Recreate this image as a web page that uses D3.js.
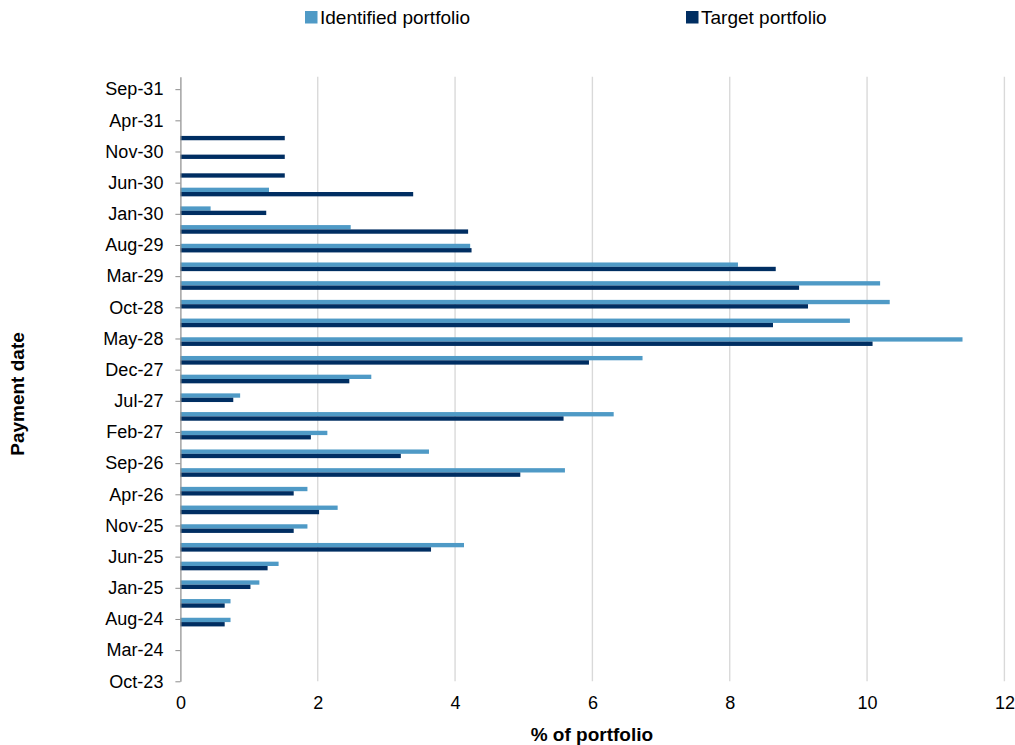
<!DOCTYPE html>
<html>
<head>
<meta charset="utf-8">
<script src="https://cdn.jsdelivr.net/npm/d3@7"></script>
<style>
  html, body { margin: 0; padding: 0; background: #fff; }
  svg { display: block; font-family: "Liberation Sans", Arial, sans-serif; }
</style>
</head>
<body>
<svg id="chart" width="1015" height="745"></svg>
<script>
// ---- Data ----
const paymentDates = ["Jul-24","Oct-24","Jan-25","Apr-25","Jul-25","Oct-25","Jan-26","Apr-26",
  "Jul-26","Oct-26","Jan-27","Apr-27","Jul-27","Oct-27","Jan-28","Apr-28","Jul-28","Oct-28",
  "Jan-29","Apr-29","Jul-29","Oct-29","Jan-30","Apr-30","Jul-30","Oct-30","Jan-31"];
const identifiedPortfolio = [0.73, 0.73, 1.15, 1.43, 4.13, 1.85, 2.29, 1.85, 5.60, 3.62, 2.14, 6.31,
  0.87, 2.78, 6.73, 11.39, 9.75, 10.33, 10.19, 8.12, 4.22, 2.48, 0.44, 1.29, 0, 0, 0];
const targetPortfolio = [0.645, 0.645, 1.02, 1.27, 3.65, 1.65, 2.02, 1.65, 4.95, 3.21, 1.90, 5.58,
  0.77, 2.46, 5.95, 10.08, 8.63, 9.14, 9.01, 8.67, 4.24, 4.19, 1.25, 3.39, 1.52, 1.52, 1.52];
const seriesNames = ["Identified portfolio", "Target portfolio"];
const xTickValues = [0, 2, 4, 6, 8, 10, 12];
const axisStart = "Oct-23";            // first month of the date axis
const axisMonths = 97;                 // axis length in months
const yTickStep = 5;                   // months between date labels

// ---- Helpers ----
const parse = d3.timeParse("%b-%y");
const fmt = d3.timeFormat("%b-%y");
const start = parse(axisStart);
const monthIndex = s => { const d = parse(s); return (d.getFullYear() - start.getFullYear()) * 12 + d.getMonth() - start.getMonth(); };
const monthLabel = k => fmt(new Date(start.getFullYear(), start.getMonth() + k, 1));

const colors = ["#4F9AC6", "#002E62"];

const svg = d3.select("#chart");
const plot = { left: 180.4, right: 1004.4, top: 76.7, bottom: 681.3 };

const x = d3.scaleLinear().domain([0, 12]).range([plot.left, plot.right]);
const y = d3.scaleLinear().domain([0, axisMonths]).range([plot.bottom, plot.top]);

// gridlines
svg.append("g").selectAll("line").data(xTickValues.filter(v => v > 0)).join("line")
  .attr("x1", d => x(d)).attr("x2", d => x(d))
  .attr("y1", plot.top).attr("y2", plot.bottom)
  .attr("stroke", "#d9d9d9").attr("stroke-width", 1.4);

// bars
const barH = 0.695; // in months
const rows = paymentDates.map((d, i) => ({ m: monthIndex(d) + 0.5, a: identifiedPortfolio[i], b: targetPortfolio[i] }));
const bars = svg.append("g");
bars.selectAll("rect.a").data(rows).join("rect").attr("class", "a")
  .attr("x", x(0)).attr("y", d => y(d.m + barH))
  .attr("width", d => x(d.a) - x(0)).attr("height", d => y(d.m) - y(d.m + barH))
  .attr("fill", colors[0]);
bars.selectAll("rect.b").data(rows).join("rect").attr("class", "b")
  .attr("x", x(0)).attr("y", d => y(d.m))
  .attr("width", d => x(d.b) - x(0)).attr("height", d => y(d.m - barH) - y(d.m))
  .attr("fill", colors[1]);

// y axis
const yTicks = d3.range(0, axisMonths, yTickStep);
const yAxis = d3.axisLeft(y).tickValues(yTicks).tickFormat(monthLabel).tickSize(5).tickPadding(12).tickSizeOuter(0);
const gy = svg.append("g").attr("transform", `translate(${plot.left},0)`).call(yAxis);
gy.select(".domain").attr("stroke", "#8c8c8c").attr("stroke-width", 1.2);
gy.selectAll(".tick line").attr("stroke", "#8c8c8c");
gy.selectAll(".tick text").attr("font-size", 18).attr("fill", "#000")
  .attr("font-family", "Liberation Sans, Arial, sans-serif");

// x axis labels (no axis line)
const xAxis = d3.axisBottom(x).tickValues(xTickValues).tickSize(0).tickPadding(15);
const gx = svg.append("g").attr("transform", `translate(0,${plot.bottom})`).call(xAxis);
gx.select(".domain").remove();
gx.selectAll(".tick text").attr("font-size", 18).attr("fill", "#000")
  .attr("font-family", "Liberation Sans, Arial, sans-serif");

// axis titles
svg.append("text").attr("x", (plot.left + plot.right) / 2 - 0.5).attr("y", 741)
  .attr("text-anchor", "middle").attr("font-size", 19).attr("font-weight", "bold")
  .text("% of portfolio");
svg.append("text").attr("transform", "translate(24,394) rotate(-90)")
  .attr("text-anchor", "middle").attr("font-size", 19).attr("font-weight", "bold")
  .text("Payment date");

// legend
const legendX = [305, 686];
const lg = svg.append("g").selectAll("g").data(seriesNames).join("g")
  .attr("transform", (d, i) => `translate(${legendX[i]},0)`);
lg.append("rect").attr("x", 0).attr("y", 11).attr("width", 12.5).attr("height", 12.5)
  .attr("fill", (d, i) => colors[i]);
lg.append("text").attr("x", 15).attr("y", 24).attr("font-size", 19).text(d => d);
</script>
</body>
</html>
